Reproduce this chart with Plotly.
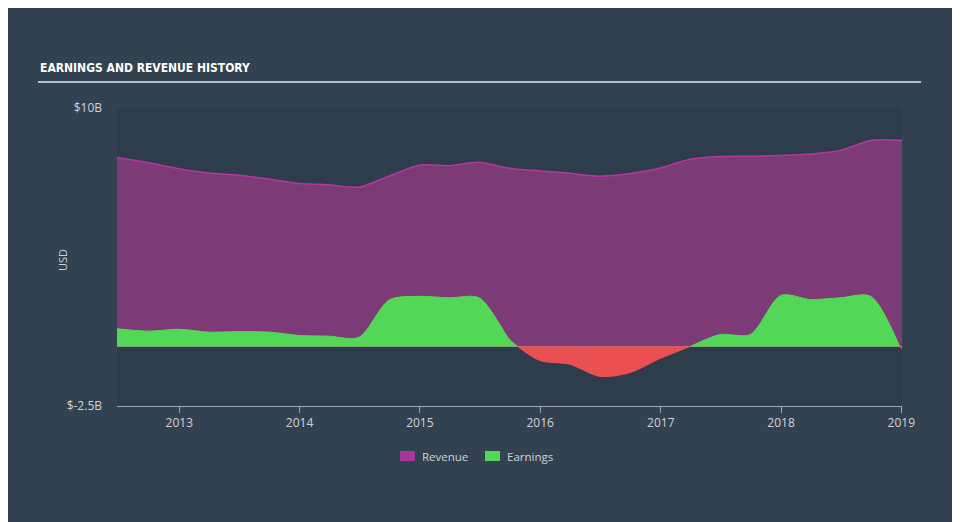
import plotly.graph_objects as go

# ---- data (values in $B) ----
rev_dates = ["2012-06-26", "2012-09-30", "2012-12-31", "2013-03-31", "2013-06-30",
             "2013-09-30", "2013-12-31", "2014-03-31", "2014-06-30", "2014-09-30",
             "2014-12-31", "2015-03-31", "2015-06-30", "2015-09-30", "2015-12-31",
             "2016-03-31", "2016-06-30", "2016-09-30", "2016-12-31", "2017-03-31",
             "2017-06-30", "2017-09-30", "2017-12-31", "2018-03-31", "2018-06-30",
             "2018-09-30", "2019-01-03"]
rev_values = [7.92, 7.70, 7.45, 7.27, 7.18, 7.02, 6.83, 6.78, 6.68, 7.15,
              7.60, 7.58, 7.72, 7.47, 7.36, 7.26, 7.14, 7.25, 7.48, 7.85,
              7.97, 7.98, 8.01, 8.07, 8.22, 8.64, 8.64]

earn_pos1_dates = ["2012-06-26", "2012-09-30", "2012-12-31", "2013-03-31", "2013-06-30",
                   "2013-09-30", "2013-12-31", "2014-03-31", "2014-06-30", "2014-09-30",
                   "2014-12-31", "2015-03-31", "2015-06-30", "2015-09-30", "2015-10-24"]
earn_pos1_values = [0.74, 0.64, 0.72, 0.60, 0.62, 0.60, 0.46, 0.43, 0.38, 1.95,
                    2.10, 2.04, 2.04, 0.30, 0.0]
earn_neg1_dates = ["2015-10-24", "2015-12-31", "2016-03-31", "2016-06-30", "2016-09-30",
                   "2016-12-31", "2017-04-01"]
earn_neg1_values = [0.0, -0.59, -0.75, -1.26, -1.10, -0.50, 0.0]
earn_pos2_dates = ["2017-04-01", "2017-06-30", "2017-09-30", "2017-12-31", "2018-03-31",
                   "2018-06-30", "2018-09-30", "2018-12-27"]
earn_pos2_values = [0.0, 0.50, 0.50, 2.14, 1.97, 2.04, 2.10, 0.0]
earn_neg2_dates = ["2018-12-27", "2019-01-03"]
earn_neg2_values = [0.0, -0.12]

y_ticks = [10, -2.5]
y_tick_labels = ["$10B", "$-2.5B"]
x_ticks = ["2013-01-01", "2014-01-01", "2015-01-01", "2016-01-01",
           "2017-01-01", "2018-01-01", "2019-01-01"]
x_tick_labels = ["2013", "2014", "2015", "2016", "2017", "2018", "2019"]
legend_labels = ["Revenue", "Earnings"]

# ---- styles ----
REV_FILL = "rgb(124,58,119)"
REV_LINE = "#b2379f"
REV_SWATCH = "#a4379c"
GREEN = "#53d756"
RED = "#ea5051"
TXT = "#cfd3d8"
FONT = "Open Sans"

fig = go.Figure()
fig.add_trace(go.Scatter(
    x=rev_dates, y=rev_values, name="Revenue", mode="lines",
    line=dict(color=REV_LINE, width=1.5, shape="spline", smoothing=0.8),
    fill="tozeroy", fillcolor=REV_FILL, hoverinfo="skip", showlegend=False))

for d, v, c in [(earn_pos1_dates, earn_pos1_values, GREEN),
                (earn_neg1_dates, earn_neg1_values, RED),
                (earn_pos2_dates, earn_pos2_values, GREEN),
                (earn_neg2_dates, earn_neg2_values, RED)]:
    fig.add_trace(go.Scatter(
        x=d, y=v, name="Earnings", mode="lines",
        line=dict(color=c, width=1, shape="spline", smoothing=0.8),
        fill="tozeroy", fillcolor=c, showlegend=False, hoverinfo="skip"))

# manual legend (plot area: x 117..902 px, y 108..406 px in the window)
def px_x(p):
    return (p - 117) / 785.0

def px_y(p):
    return (406 - p) / 298.0

legend_shapes = []
legend_annots = []
for label, color, sx in zip(legend_labels, [REV_SWATCH, GREEN], [400, 485]):
    legend_shapes.append(dict(type="rect", xref="paper", yref="paper",
                              x0=px_x(sx), x1=px_x(sx + 15), y0=px_y(461), y1=px_y(451),
                              fillcolor=color, line=dict(width=0)))
    legend_annots.append(dict(text=label, xref="paper", yref="paper",
                              x=px_x(sx + 20), y=px_y(456), xanchor="left", yanchor="middle",
                              showarrow=False, font=dict(family=FONT, size=11.5, color=TXT)))

fig.update_layout(
    width=952, height=514,
    margin=dict(l=109, r=58, t=100, b=116),
    paper_bgcolor="#334250", plot_bgcolor="#2e3d4c",
    font=dict(family=FONT, color=TXT, size=12),
    showlegend=False,
    xaxis=dict(type="date", range=["2012-06-26", "2019-01-03"],
               tickvals=x_ticks, ticktext=x_tick_labels,
               showgrid=False, zeroline=False,
               showline=True, linecolor="#9ea6b0", linewidth=1,
               ticks="outside", ticklen=6, tickcolor="#9ea6b0", tickwidth=1,
               tickfont=dict(family=FONT, size=12, color=TXT)),
    yaxis=dict(range=[-2.5, 10], tickvals=y_ticks, ticktext=y_tick_labels,
               showgrid=False, zeroline=True, zerolinecolor="#c8bf96", zerolinewidth=1,
               showline=False, ticks="", ticklabelstandoff=14,
               tickfont=dict(family=FONT, size=12, color=TXT)),
    annotations=[
        dict(text="<b>EARNINGS AND REVENUE HISTORY</b>", xref="paper", yref="paper",
             x=px_x(38), y=px_y(68), xanchor="left", yanchor="middle", showarrow=False,
             font=dict(family="DejaVu Sans Condensed", size=12, color="#ffffff")),
        dict(text="USD", xref="paper", yref="paper", x=px_x(63), y=px_y(260),
             xanchor="center", yanchor="middle", textangle=-90, showarrow=False,
             font=dict(family=FONT, size=11, color=TXT)),
    ] + legend_annots,
    shapes=[dict(type="line", xref="paper", yref="paper", x0=px_x(38), x1=px_x(921),
                 y0=px_y(82), y1=px_y(82), line=dict(color="#b9bfc6", width=2))]
           + legend_shapes,
)

fig.write_html("out.html")
